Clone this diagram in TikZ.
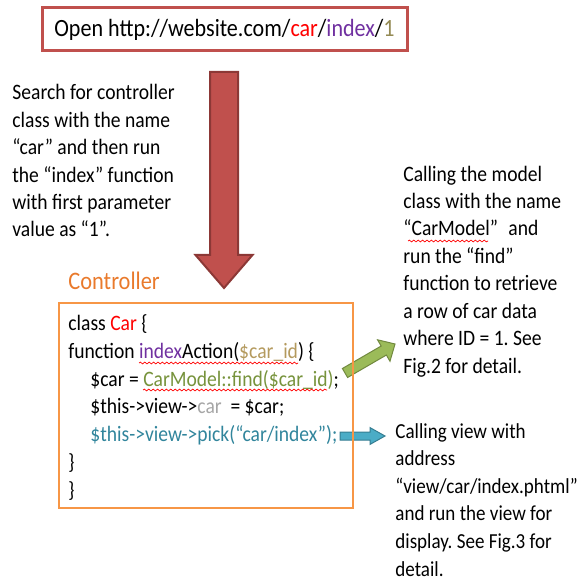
\documentclass[tikz,border=0pt]{standalone}
\usepackage{fontspec}
\setmainfont{Carlito}[FakeStretch=0.89]
\usetikzlibrary{calc,decorations.pathmorphing}

\definecolor{urlred}{HTML}{C0504D}
\definecolor{urlredline}{HTML}{8C3836}
\definecolor{ctrlorange}{HTML}{F79646}
\definecolor{labelorange}{HTML}{E97A2C}
\definecolor{modelgreen}{HTML}{9BBB59}
\definecolor{modelgreenline}{HTML}{71893F}
\definecolor{viewblue}{HTML}{4BACC6}
\definecolor{viewblueline}{HTML}{357D91}
\definecolor{codepurple}{HTML}{7030A0}
\definecolor{codetan}{HTML}{B49A5E}
\definecolor{codeolive}{HTML}{77933C}
\definecolor{codeteal}{HTML}{31859C}
\definecolor{codegray}{HTML}{A6A6A6}
\definecolor{idgray}{HTML}{948A54}

\tikzset{
  note/.style={anchor=base west,align=left,inner sep=0pt,
    font=\fontsize{11}{13.7}\selectfont},
  squiggle/.style={red,line width=0.35pt,decorate,
    decoration={snake,amplitude=0.45pt,segment length=2.2pt}},
}

% block arrow: style, tail, tip, half shaft, half head, head length
\newcommand\blockarrow[6]{%
  \coordinate (#3-base) at ($(#3)!#6!(#2)$);
  \draw[#1] ($(#2)!#4!90:(#3)$) -- ($(#3-base)!#4!90:(#3)$)
    -- ($(#3-base)!#5!90:(#3)$) -- (#3)
    -- ($(#3-base)!#5!-90:(#3)$) -- ($(#3-base)!#4!-90:(#3)$)
    -- ($(#2)!#4!-90:(#3)$) -- cycle;
}

\begin{document}
\frenchspacing
\begin{tikzpicture}[x=0.5pt,y=-0.5pt]
	\useasboundingbox (0,0) rectangle (579,581);

	% request (multi-line notes sit on their last baseline)
	\node[draw=urlred,line width=1.5pt,minimum width=182.5pt,minimum height=21.5pt,
		font=\fontsize{12.4}{14}\selectfont] (url) at (224.5,29.5)
		{Open http://website.com/\textcolor{red}{car}/\textcolor{codepurple}{index}/\textcolor{idgray}{1}};

	\node[note] (search) at (12,237) {Search for controller\\class with the name\\%
		“car” and then run\\the “index” function\\with first parameter\\value as “1”.};

	\coordinate (rtail) at (224,72);
	\coordinate (rtip) at (224,288);
	\blockarrow{fill=urlred,draw=urlredline,line width=1pt}{rtail}{rtip}{7pt}{14.25pt}{16.5pt}

	% controller
	\node[note,text=labelorange,font=\fontsize{12.6}{14}\selectfont] (ctrllabel) at (68,290) {Controller};

	\node[note,font=\fontsize{11}{13.85}\selectfont] (code) at (68,497) {class \textcolor{red}{Car} \{\\%
		function \textcolor{codepurple}{index}Action(\textcolor{codetan}{\$car\_id}) \{\\%
		\hspace*{11pt}\$car = \textcolor{codeolive}{CarModel::find(\$car\_id)};\\%
		\hspace*{11pt}\$this->view->\textcolor{codegray}{car}\ \ = \$car;\\%
		\hspace*{11pt}\textcolor{codeteal}{\$this->view->pick(“car/index”);}\\%
		\}\\%
		\}};

	\draw[squiggle] (139,363) -- (298,363);
	\draw[squiggle] (143,390) -- (327,390);

	% model and view
	\node[note] (model) at (403,373) {Calling the model\\class with the name\\%
		“CarModel”\hspace{3pt} and\\run the “find”\\function to retrieve\\%
		a row of car data\\where ID = 1. See\\Fig.2 for detail.};
	\draw[squiggle] (408,241) -- (488,241);

	\node[note,font=\fontsize{10.7}{13.8}\selectfont] (view) at (395,576) {Calling view with\\address\\%
		“view/car/index.phtml”\\and run the view for\\display. See Fig.3 for\\detail.};

	\coordinate (gtail) at (345,373);
	\coordinate (gtip) at (395,344);
	\blockarrow{fill=modelgreen,draw=modelgreenline,line width=0.5pt}{gtail}{gtip}{2.6pt}{6.2pt}{6.5pt}

	\coordinate (btail) at (340,436);
	\coordinate (btip) at (385,436);
	\blockarrow{fill=viewblue,draw=viewblueline,line width=0.5pt}{btail}{btip}{2pt}{4.2pt}{7.5pt}

	\node[draw=ctrlorange,line width=1pt,minimum width=147pt,minimum height=102.5pt] (ctrl) at (206,405.5) {};
\end{tikzpicture}
\end{document}
